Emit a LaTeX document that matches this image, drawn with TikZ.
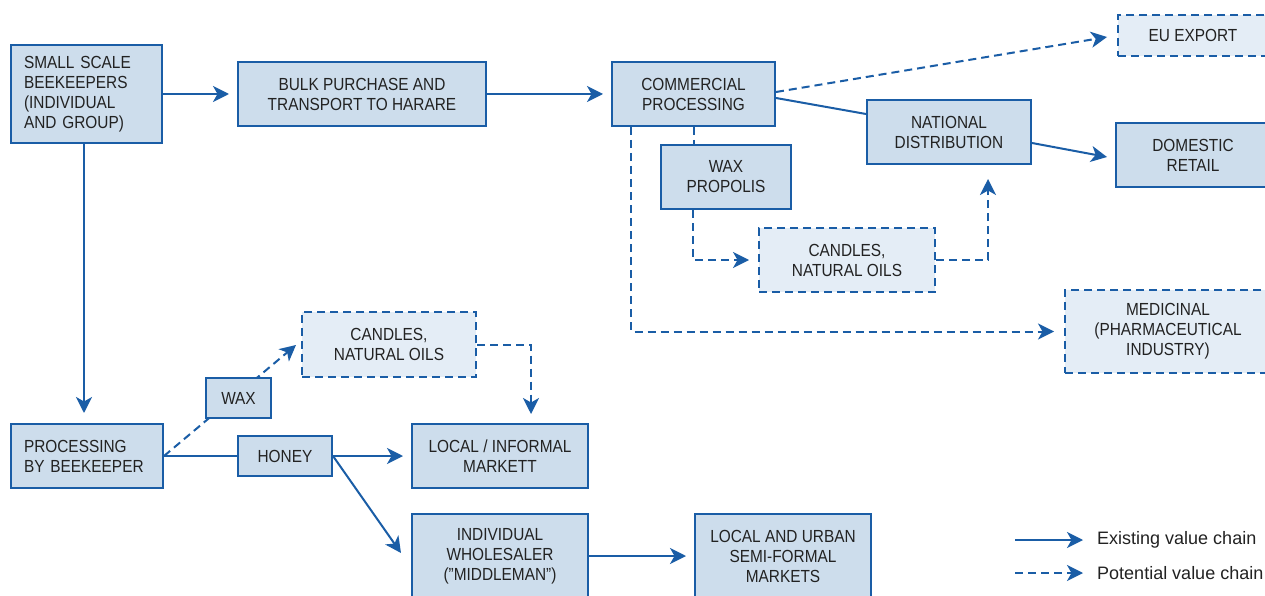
\documentclass[tikz,border=0pt]{standalone}
\usepackage{fontspec}
\setmainfont{Liberation Sans}[FakeStretch=0.88]
\newfontfamily\legendfont{Liberation Sans}
\usetikzlibrary{arrows.meta,calc}
\definecolor{chainblue}{HTML}{1A5DA6}
\definecolor{boxfill}{HTML}{CDDDEC}
\definecolor{softfill}{HTML}{E4EDF6}
\definecolor{inktext}{HTML}{222222}
\pgfdeclarelayer{canvas}
\pgfdeclarelayer{links}
\pgfsetlayers{canvas,links,main}
\begin{document}
\begin{tikzpicture}[x=1pt,y=-1pt,
  box/.style={draw=chainblue, line width=2pt, fill=boxfill, text=inktext,
    align=center, inner sep=0pt, font=\fontsize{17.5}{20}\selectfont},
  pbox/.style={box, fill=softfill, dash pattern=on 8pt off 5pt},
  bare/.style={draw=chainblue, line width=2pt},
  link/.style={bare, -{Stealth[length=16pt,width=16pt,inset=4.5pt]}},
  plink/.style={link, dash pattern=on 8pt off 5pt},
  pbare/.style={bare, dash pattern=on 8pt off 5pt},
  legtext/.style={anchor=west, text=inktext, inner sep=0pt,
    font=\legendfont\fontsize{18}{20}\selectfont}]

\begin{pgfonlayer}{canvas}
  \fill[white] (0,0) rectangle (1265,596);
\end{pgfonlayer}
\useasboundingbox (0,0) rectangle (1265,596);

% formal chain
\node[box, text width=125pt, inner xsep=13pt, align=left, minimum height=98pt]
  (ssb) at (86.5,94) {SMALL SCALE\\BEEKEEPERS\\(INDIVIDUAL\\AND GROUP)};
\node[box, minimum width=248pt, minimum height=64pt] (bulk) at (362,94)
  {BULK PURCHASE AND\\TRANSPORT TO HARARE};
\node[box, minimum width=163pt, minimum height=64pt] (comm) at (693.5,94)
  {COMMERCIAL\\PROCESSING};
\node[box, minimum width=164pt, minimum height=64pt] (nat) at (949,132)
  {NATIONAL\\DISTRIBUTION};
\node[box, minimum width=154pt, minimum height=64pt] (dom) at (1193,155)
  {DOMESTIC\\RETAIL};
\node[pbox, minimum width=150pt, minimum height=41pt] (eu) at (1193,35.5)
  {EU EXPORT};
\node[box, minimum width=130pt, minimum height=64pt] (wp) at (726,177)
  {WAX\\PROPOLIS};
\node[pbox, minimum width=176pt, minimum height=64pt] (ct) at (847,260)
  {CANDLES,\\NATURAL OILS};
\node[pbox, minimum width=206pt, minimum height=83pt] (med) at (1168,331.5)
  {MEDICINAL\\(PHARMACEUTICAL\\INDUSTRY)};

% informal chain
\node[box, text width=126pt, inner xsep=13pt, align=left, minimum height=64pt]
  (proc) at (87,456) {PROCESSING\\BY BEEKEEPER};
\node[pbox, minimum width=174pt, minimum height=65pt] (cb) at (389,344.5)
  {CANDLES,\\NATURAL OILS};
\node[box, minimum width=65pt, minimum height=40pt] (wax) at (238.5,398) {WAX};
\node[box, minimum width=94pt, minimum height=40pt] (honey) at (285,456) {HONEY};
\node[box, minimum width=176pt, minimum height=64pt] (li) at (500,456)
  {LOCAL / INFORMAL\\MARKETT};
\node[box, minimum width=176pt, minimum height=84pt] (ind) at (500,556)
  {INDIVIDUAL\\WHOLESALER\\(''MIDDLEMAN'')};
\node[box, minimum width=176pt, minimum height=84pt] (lau) at (783,556)
  {LOCAL AND URBAN\\SEMI-FORMAL\\MARKETS};

% legend
\coordinate (la) at (1015,540);
\coordinate (lb) at (1083,540);
\coordinate (lc) at (1015,573);
\coordinate (ld) at (1083,573);
\node[legtext] (lt1) at (1097,540) {Existing value chain};
\node[legtext] (lt2) at (1097,573) {Potential value chain};

\begin{pgfonlayer}{links}
  \draw[link] (ssb.east) -- ($(bulk.west)+(-8,0)$);
  \draw[link] (bulk.east) -- ($(comm.west)+(-8,0)$);
  \draw[bare] ($(comm.east)+(0,4)$) -- ($(nat.west)+(0,-18)$);
  \draw[link] ($(nat.east)+(0,11)$) -- ($(dom.west)+(-8,2)$);
  \draw[plink] ($(comm.east)+(0,-2)$) -- ($(eu.west)+(-10,1.5)$);
  \draw[pbare] (comm.south) -- (comm.south |- wp.north);
  \draw[plink] ($(comm.south west)+(20,0)$) |- ($(med.west)+(-10,0)$);
  \draw[plink] ($(wp.south west)+(33,0)$) |- ($(ct.west)+(-9,0)$);
  \draw[plink] (ct.east) -| ($(nat.south)+(39,14)$);

  \draw[link] ($(ssb.south)+(-2.5,0)$) -- ($(proc.north)+(-3,-10)$);
  \draw[plink] (proc.east) -- ($(cb.west)+(-5,0.5)$);
  \draw[link] (proc.east) -- ($(li.west)+(-8,0)$);
  \draw[link] (honey.east) -- ($(ind.west)+(-10,-3)$);
  \draw[plink] (cb.east) -| ($(li.north)+(31,-9)$);
  \draw[link] (ind.east) -- ($(lau.west)+(-8,0)$);

  \draw[link] (la) -- (lb);
  \draw[plink] (lc) -- (ld);
\end{pgfonlayer}
\end{tikzpicture}
\end{document}
